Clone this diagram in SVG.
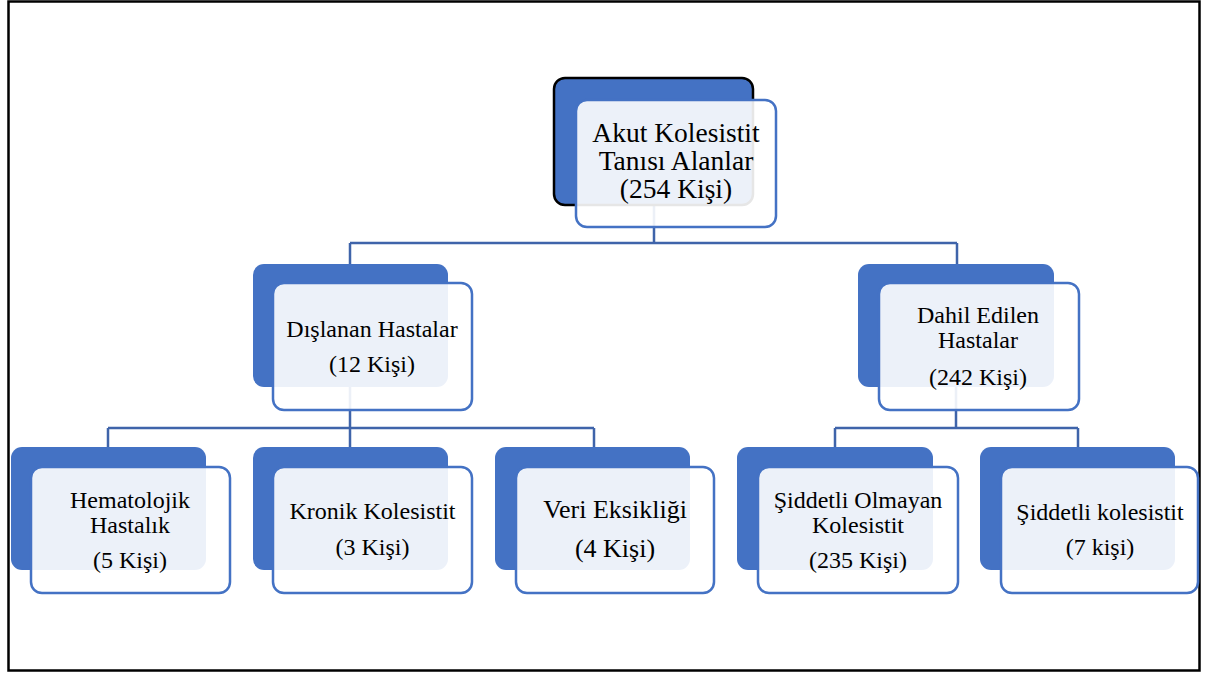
<svg xmlns="http://www.w3.org/2000/svg" width="1218" height="675" viewBox="0 0 1218 675">
<style>
.back{fill:#4472C4;}
.front{fill:#FFFFFF;fill-opacity:0.9;stroke:#4472C4;stroke-width:2.5;}
.t{font-family:"Liberation Serif","Times New Roman",serif;font-size:24px;fill:#000;text-anchor:middle;}
.conn{fill:none;stroke:#3F64AA;stroke-width:2.5;}
</style>
<rect width="1218" height="675" fill="#FFFFFF"/>
<rect x="8.5" y="1.5" width="1191" height="669" fill="none" stroke="#000" stroke-width="2.5"/>
<g id="connectors">
<path class="conn" d="M654 205 V243 M350 243 H957 M350 243 V264 M957 243 V264"/>
<path class="conn" d="M350 387 V428 M108 428 H594 M108 428 V447 M350 428 V447 M594 428 V447"/>
<path class="conn" d="M956 387 V428 M835 428 H1078 M835 428 V447 M1078 428 V447"/>
</g>
<g id="node-root">
<rect class="back" x="554" y="78" width="199" height="127" rx="11" stroke="#000" stroke-width="2.5"/>
<rect class="front" x="576" y="100" width="200" height="127" rx="11"/>
<text class="t" style="font-size:27.5px" x="676" y="142">Akut Kolesistit</text>
<text class="t" style="font-size:27.5px" x="676" y="170">Tanısı Alanlar</text>
<text class="t" style="font-size:27.5px" x="676" y="198">(254 Kişi)</text>
</g>
<g id="node-dislanan">
<rect class="back" x="253" y="264" width="195" height="123" rx="11"/>
<rect class="front" x="273" y="283" width="199" height="127" rx="11"/>
<text class="t" x="372" y="337">Dışlanan Hastalar</text>
<text class="t" x="372" y="372">(12 Kişi)</text>
</g>
<g id="node-dahil">
<rect class="back" x="858" y="264" width="196" height="123" rx="11"/>
<rect class="front" x="879" y="283" width="200" height="127" rx="11"/>
<text class="t" x="978" y="323">Dahil Edilen</text>
<text class="t" x="978" y="348">Hastalar</text>
<text class="t" x="978" y="385">(242 Kişi)</text>
</g>
<g id="node-hematolojik">
<rect class="back" x="11" y="447" width="195" height="123" rx="11"/>
<rect class="front" x="31" y="467" width="199" height="126" rx="11"/>
<text class="t" x="130" y="508">Hematolojik</text>
<text class="t" x="130" y="533">Hastalık</text>
<text class="t" x="130" y="568">(5 Kişi)</text>
</g>
<g id="node-kronik">
<rect class="back" x="253" y="447" width="195" height="123" rx="11"/>
<rect class="front" x="273" y="467" width="199" height="126" rx="11"/>
<text class="t" x="372.5" y="519">Kronik Kolesistit</text>
<text class="t" x="372.5" y="555">(3 Kişi)</text>
</g>
<g id="node-veri">
<rect class="back" x="495" y="447" width="195" height="123" rx="11"/>
<rect class="front" x="516" y="467" width="198" height="126" rx="11"/>
<text class="t" style="font-size:26px" x="615" y="518">Veri Eksikliği</text>
<text class="t" style="font-size:26px" x="615" y="557">(4 Kişi)</text>
</g>
<g id="node-siddetli-olmayan">
<rect class="back" x="737" y="447" width="196" height="123" rx="11"/>
<rect class="front" x="758" y="467" width="200" height="126" rx="11"/>
<text class="t" x="858" y="508">Şiddetli Olmayan</text>
<text class="t" x="858" y="533">Kolesistit</text>
<text class="t" x="858" y="568">(235 Kişi)</text>
</g>
<g id="node-siddetli">
<rect class="back" x="980" y="447" width="195" height="123" rx="11"/>
<rect class="front" x="1001" y="467" width="197" height="126" rx="11"/>
<text class="t" x="1100" y="520">Şiddetli kolesistit</text>
<text class="t" x="1100" y="555">(7 kişi)</text>
</g>
</svg>
